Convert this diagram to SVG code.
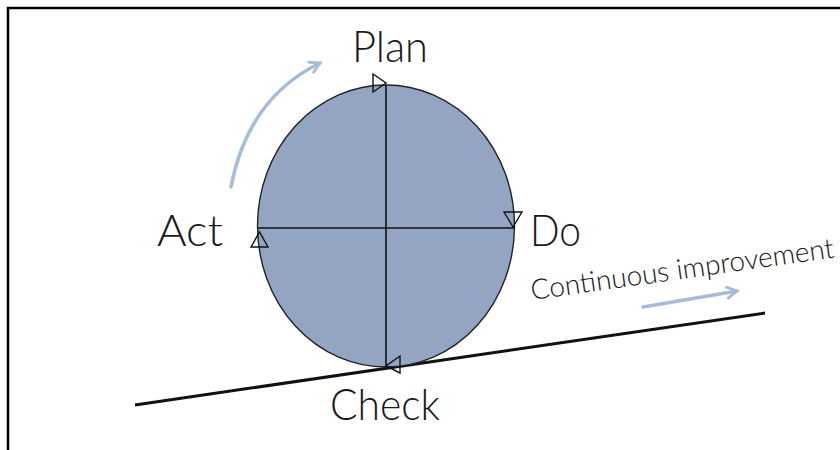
<svg xmlns="http://www.w3.org/2000/svg" width="840" height="450" viewBox="0 0 840 450">
<style>
.lbl{font-family:Lato,"Open Sans","DejaVu Sans",sans-serif;font-weight:300;fill:#1a1a1a;}
.big{font-size:44px;}
.ax{stroke:#111;stroke-width:1.6;fill:none;}
.tri{stroke:#111;stroke-width:1.4;fill:none;stroke-linejoin:miter;}
.blue{stroke:#a7bcda;stroke-width:3.5;fill:none;stroke-linecap:round;}
</style>
<defs>
<marker id="ah" viewBox="0 0 10 10" refX="8" refY="5" markerWidth="4" markerHeight="4" orient="auto" markerUnits="strokeWidth">
<path d="M1,1 L8,5 L1,9" fill="none" stroke="#a7bcda" stroke-width="2" stroke-linecap="round"/>
</marker>
</defs>
<rect width="840" height="450" fill="#fff"/>
<g id="frame">
<path d="M8,450 V8 H840" fill="none" stroke="#000" stroke-width="2.5"/>
</g>
<g id="ground">
<line x1="135" y1="405" x2="765" y2="313" stroke="#111" stroke-width="3"/>
</g>
<g id="cycle">
<ellipse cx="386" cy="226" rx="128.5" ry="141" fill="#94a5c4" stroke="#222" stroke-width="1.4"/>
</g>
<g id="connectors">
<line class="ax" x1="386" y1="85" x2="386" y2="367"/>
<line class="ax" x1="258" y1="228" x2="515" y2="228"/>
<path class="tri" d="M373,74 L386,83 L373,92 Z"/>
<path class="tri" d="M504,212 L522,212 L513,227 Z"/>
<path class="tri" d="M251,247 L268,247 L259.5,232 Z"/>
<path class="tri" d="M400,356 L400,373 L386,366 Z"/>
<path class="blue" d="M231,187 Q248,98 320,63" marker-end="url(#ah)"/>
<path class="blue" d="M643,307 L737,291" marker-end="url(#ah)"/>
</g>
<g id="plan"><text class="lbl big" x="352" y="62" textLength="76" lengthAdjust="spacingAndGlyphs">Plan</text></g>
<g id="do"><text class="lbl big" x="530" y="246" textLength="51" lengthAdjust="spacingAndGlyphs">Do</text></g>
<g id="act"><text class="lbl big" x="157" y="246" textLength="66" lengthAdjust="spacingAndGlyphs">Act</text></g>
<g id="check"><text class="lbl big" x="330" y="420" textLength="110" lengthAdjust="spacingAndGlyphs">Check</text></g>
<g id="improvement"><text class="lbl" font-size="28" transform="translate(532,300) rotate(-8)" textLength="306" lengthAdjust="spacingAndGlyphs">Continuous improvement</text></g>
</svg>
